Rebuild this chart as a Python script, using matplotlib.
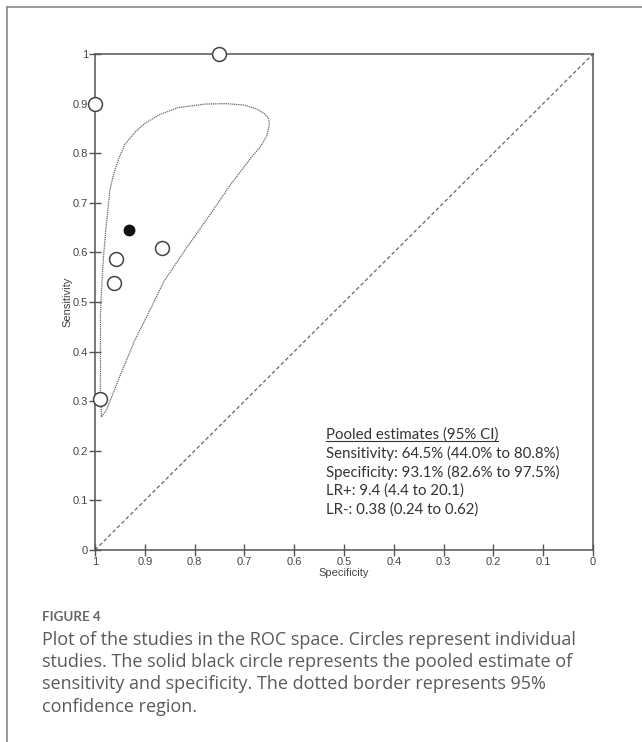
import matplotlib
matplotlib.use("Agg")
import matplotlib.pyplot as plt
from matplotlib.lines import Line2D

# individual studies (specificity, sensitivity)
study_spec = [0.751, 1.0, 0.958, 0.962, 0.865, 0.989]
study_sens = [1.0, 0.9, 0.586, 0.538, 0.608, 0.304]

# pooled estimate
pooled_spec = [0.931]
pooled_sens = [0.645]

# 95% confidence region outline
region_spec = [0.987, 0.989, 0.989, 0.986, 0.983, 0.977, 0.970, 0.962, 0.952, 0.940,
               0.920, 0.900, 0.870, 0.833, 0.779, 0.739, 0.700, 0.675, 0.659, 0.651,
               0.650, 0.655, 0.668, 0.685, 0.726, 0.772, 0.819, 0.862, 0.886, 0.920,
               0.953, 0.977, 0.987]
region_sens = [0.269, 0.323, 0.477, 0.540, 0.591, 0.659, 0.726, 0.760, 0.790, 0.818,
               0.842, 0.860, 0.878, 0.892, 0.899, 0.900, 0.897, 0.889, 0.879, 0.869,
               0.858, 0.835, 0.813, 0.793, 0.739, 0.672, 0.605, 0.541, 0.491, 0.423,
               0.343, 0.282, 0.269]

ticks = [0, 0.1, 0.2, 0.3, 0.4, 0.5, 0.6, 0.7, 0.8, 0.9, 1]
tick_labels = ["0", "0.1", "0.2", "0.3", "0.4", "0.5", "0.6", "0.7", "0.8", "0.9", "1"]

summary_title = "Pooled estimates (95% CI)"
summary_lines = [
    "Sensitivity: 64.5% (44.0% to 80.8%)",
    "Specificity: 93.1% (82.6% to 97.5%)",
    "LR+: 9.4 (4.4 to 20.1)",
    "LR-: 0.38 (0.24 to 0.62)",
]

fig_title = "FIGURE 4"
caption = [
    "Plot of the studies in the ROC space. Circles represent individual",
    "studies. The solid black circle represents the pooled estimate of",
    "sensitivity and specificity. The dotted border represents 95%",
    "confidence region.",
]

W, H = 642, 742
fig = plt.figure(figsize=(W / 100, H / 100), dpi=100)

def fx(px):
    return px / W

def fy(py):
    return 1 - py / H

# card border (top + left)
fig.add_artist(Line2D([fx(7), 1], [fy(7), fy(7)], color="#8a8a8a", lw=1.2))
fig.add_artist(Line2D([fx(7), fx(7)], [fy(7), 0], color="#8a8a8a", lw=1.2))

ax = fig.add_axes([fx(95), fy(550), fx(593) - fx(95), fy(54) - fy(550)])
ax.set_xlim(1, 0)
ax.set_ylim(0, 1)

axis_col = "#555555"
for s in ax.spines.values():
    s.set_color(axis_col)
    s.set_linewidth(1.1)

ax.set_xticks(ticks)
ax.set_xticklabels(tick_labels)
ax.set_yticks(ticks)
ax.set_yticklabels(tick_labels)
ax.tick_params(direction="inout", length=8, width=1.0, color=axis_col,
               labelsize=8, labelcolor="#444444", pad=1)
for lab in ax.get_xticklabels() + ax.get_yticklabels():
    lab.set_family("Liberation Sans")

ax.set_xlabel("Specificity", fontsize=8, family="Liberation Sans", color="#444444", labelpad=1)
ax.set_ylabel("Sensitivity", fontsize=8, family="Liberation Sans", color="#444444", labelpad=0)

# chance diagonal
ax.plot([1, 0], [0, 1], color="#666666", lw=0.9, ls=(0, (3, 2)))

# confidence region
ax.plot(region_spec, region_sens, color="#666666", lw=0.9, ls=(0, (1, 0.7)))

ax.plot(study_spec, study_sens, ls="none", marker="o", ms=10, mfc="white",
        mec="#444444", mew=1.1, clip_on=False, zorder=5)
ax.plot(pooled_spec, pooled_sens, ls="none", marker="o", ms=7.5, mfc="#111111",
        mec="#111111", clip_on=False, zorder=5)

# summary text block
txt_font = dict(family=["Lato", "DejaVu Sans"], fontsize=10.8, color="#333333")
t0 = fig.text(fx(326), fy(435), summary_title, va="center", ha="left", **txt_font)
for i, line in enumerate(summary_lines):
    fig.text(fx(326), fy(453.5 + 18.6 * i), line, va="center", ha="left", **txt_font)

fig.canvas.draw()
bb = t0.get_window_extent().transformed(fig.transFigure.inverted())
fig.add_artist(Line2D([bb.x0, bb.x1], [bb.y0 + 0.001, bb.y0 + 0.001], color="#333333", lw=0.8))

# caption
fig.text(fx(42), fy(617), fig_title, va="center", ha="left",
         family=["Lato", "DejaVu Sans"], fontsize=9.6, weight="bold", color="#666666")
for i, line in enumerate(caption):
    fig.text(fx(42), fy(640 + 22.2 * i), line, va="center", ha="left",
             family=["Open Sans", "DejaVu Sans"], fontsize=13, color="#5a5a5a")

fig.savefig("out.png", dpi=100)
